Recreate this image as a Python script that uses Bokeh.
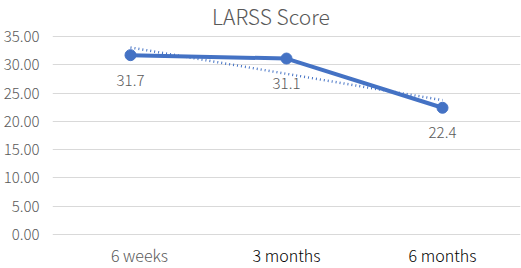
import numpy as np
from bokeh.plotting import figure
from bokeh.models import Range1d, FixedTicker, Label, ColumnDataSource
from bokeh.core.properties import value
from bokeh.embed import file_html
from bokeh.resources import INLINE

title = "LARSS Score"
categories = ["6 weeks", "3 months", "6 months"]
scores = [31.7, 31.1, 22.4]
label_colors = ["#595959", "#000000", "#000000"]
y_ticks = [0, 5, 10, 15, 20, 25, 30, 35]

FONT = "'Noto Sans CJK SC Light', 'Noto Sans CJK SC'"
BLUE = "#4472C4"
GREY = "#595959"

xs = [i + 0.5 for i in range(len(categories))]
coef = np.polyfit(range(len(scores)), scores, 1)
trend = [coef[0] * i + coef[1] for i in range(len(scores))]

p = figure(width=521, height=268, output_backend="svg", toolbar_location=None,
           x_range=Range1d(0, len(categories)), y_range=Range1d(-6.01, 41.36),
           min_border_left=52, min_border_right=1, min_border_top=0,
           min_border_bottom=0)

p.outline_line_color = None
p.background_fill_color = "white"
p.border_fill_color = "white"

p.xgrid.grid_line_color = None
p.ygrid.grid_line_color = "#D9D9D9"
p.ygrid.grid_line_width = 1
p.ygrid.ticker = FixedTicker(ticks=y_ticks)

p.yaxis.ticker = FixedTicker(ticks=y_ticks)
p.yaxis.major_label_overrides = {t: f"{t:.2f}" for t in y_ticks}
p.yaxis.axis_line_color = None
p.yaxis.major_tick_line_color = None
p.yaxis.minor_tick_line_color = None
p.yaxis.major_tick_out = 0
p.yaxis.major_tick_in = 0
p.yaxis.major_label_text_font = FONT
p.yaxis.major_label_text_font_size = "15px"
p.yaxis.major_label_text_color = GREY
p.yaxis.major_label_standoff = 13

p.xaxis.visible = False

src = ColumnDataSource(dict(x=xs, y=scores, t=trend,
                            lbl=[f"{v:.1f}" for v in scores]))

p.line("x", "t", source=src, line_color=BLUE, line_width=2.5, line_dash="1 3")
p.line("x", "y", source=src, line_color=BLUE, line_width=4)
p.scatter("x", "y", source=src, size=11, fill_color=BLUE, line_color=BLUE)
p.text("x", "y", text="lbl", source=src, y_offset=25, text_align="center",
       text_baseline="middle", text_font=value(FONT), text_font_size="15px",
       text_color=GREY)

for i, (x, c, col) in enumerate(zip(xs, categories, label_colors)):
    p.add_layout(Label(x=x, y=-3.7, text=c, text_align="center",
                       x_offset=9 if i == 0 else 0,
                       text_baseline="middle", text_font=FONT,
                       text_font_size="16px", text_color=col))

p.add_layout(Label(x=1.4, y=38.6, text=title, text_align="center",
                   text_baseline="middle", text_font=FONT,
                   text_font_size="21px", text_color=GREY))

open("out.html", "w").write(file_html(p, INLINE))
